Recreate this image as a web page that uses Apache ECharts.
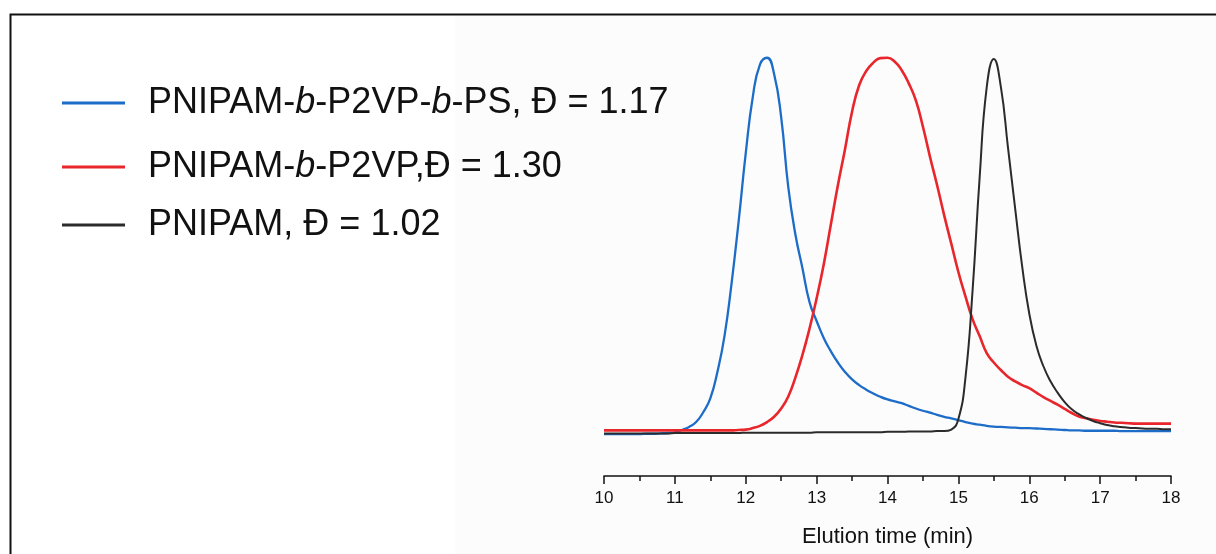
<!DOCTYPE html>
<html>
<head>
<meta charset="utf-8">
<script src="https://cdn.jsdelivr.net/npm/echarts@6/dist/echarts.min.js"></script>
<style>
	html,body{margin:0; padding:0; background:#fff;}
	#chart{width:1216px; height:554px;}
</style>
</head>
<body>
<div id="chart"></div>
<script>
	// 洗脱时间 (min)，每 0.1 min 读一个点
	var elutionTime = [
		10.0, 10.1, 10.2, 10.3, 10.4, 10.5, 10.6, 10.7, 10.8, 10.9,
		11.0, 11.1, 11.2, 11.3, 11.4, 11.5, 11.6, 11.7, 11.8, 11.9,
		12.0, 12.1, 12.2, 12.3, 12.4, 12.5, 12.6, 12.7, 12.8, 12.9,
		13.0, 13.1, 13.2, 13.3, 13.4, 13.5, 13.6, 13.7, 13.8, 13.9,
		14.0, 14.1, 14.2, 14.3, 14.4, 14.5, 14.6, 14.7, 14.8, 14.9,
		15.0, 15.1, 15.2, 15.3, 15.4, 15.5, 15.6, 15.7, 15.8, 15.9,
		16.0, 16.1, 16.2, 16.3, 16.4, 16.5, 16.6, 16.7, 16.8, 16.9,
		17.0, 17.1, 17.2, 17.3, 17.4, 17.5, 17.6, 17.7, 17.8, 17.9,
		18.0
	];
	// 归一化信号
	var blueValue = [
		0, 0, 0, 0, 0, 0, 0.001, 0.001, 0.002, 0.003,
		0.005, 0.011, 0.019, 0.032, 0.058, 0.095, 0.165, 0.26, 0.40, 0.565,
		0.745, 0.895, 0.98, 0.998, 0.955, 0.84, 0.655, 0.53, 0.44, 0.35,
		0.30, 0.255, 0.22, 0.19, 0.165, 0.145, 0.13, 0.118, 0.108, 0.099,
		0.092, 0.087, 0.082, 0.075, 0.068, 0.062, 0.057, 0.051, 0.046, 0.042,
		0.037, 0.032, 0.028, 0.025, 0.022, 0.020, 0.019, 0.018, 0.017, 0.016,
		0.016, 0.015, 0.014, 0.013, 0.012, 0.011, 0.010, 0.010, 0.009, 0.009,
		0.009, 0.009, 0.009, 0.008, 0.008, 0.008, 0.008, 0.008, 0.008, 0.008,
		0.008
	];
	var redValue = [
		0.010, 0.010, 0.010, 0.010, 0.010, 0.010, 0.010, 0.010, 0.010, 0.010,
		0.010, 0.010, 0.010, 0.010, 0.010, 0.010, 0.010, 0.010, 0.010, 0.011,
		0.012, 0.016, 0.022, 0.032, 0.046, 0.068, 0.10, 0.15, 0.21, 0.28,
		0.36, 0.45, 0.555, 0.66, 0.755, 0.855, 0.925, 0.963, 0.985, 0.997,
		0.998, 0.988, 0.965, 0.93, 0.885, 0.815, 0.735, 0.66, 0.58, 0.505,
		0.43, 0.365, 0.305, 0.26, 0.215, 0.19, 0.17, 0.152, 0.14, 0.13,
		0.122, 0.11, 0.098, 0.088, 0.078, 0.067, 0.056, 0.047, 0.042, 0.038,
		0.035, 0.033, 0.031, 0.030, 0.029, 0.028, 0.028, 0.028, 0.028, 0.028,
		0.028
	];
	var blackValue = [
		0.002, 0.002, 0.002, 0.002, 0.002, 0.002, 0.002, 0.002, 0.002, 0.002,
		0.003, 0.003, 0.003, 0.003, 0.003, 0.003, 0.003, 0.003, 0.003, 0.003,
		0.004, 0.004, 0.004, 0.004, 0.004, 0.004, 0.004, 0.004, 0.004, 0.004,
		0.005, 0.005, 0.005, 0.005, 0.005, 0.005, 0.005, 0.005, 0.005, 0.005,
		0.006, 0.006, 0.006, 0.007, 0.007, 0.007, 0.007, 0.008, 0.008, 0.012,
		0.04, 0.15, 0.38, 0.68, 0.92, 0.995, 0.92, 0.76, 0.6, 0.445,
		0.32, 0.235, 0.18, 0.14, 0.11, 0.085, 0.066, 0.053, 0.043, 0.035,
		0.029, 0.024, 0.021, 0.019, 0.017, 0.016, 0.015, 0.014, 0.014, 0.013,
		0.013
	];

	var seriesNames = ['PNIPAM-b-P2VP-b-PS, Đ = 1.17', 'PNIPAM-b-P2VP,Đ = 1.30', 'PNIPAM, Đ = 1.02'];
	// 图例文字 (b 为斜体)
	var legendLabels = ['{n|PNIPAM-}{i|b}{n|-P2VP-}{i|b}{n|-PS, Đ = 1.17}', '{n|PNIPAM-}{i|b}{n|-P2VP,Đ = 1.30}', '{n|PNIPAM, Đ = 1.02}'];
	var colors = ['#1c6cc8', '#e8262b', '#2b2b2b'];
	var xTicks = [10, 18, 1];

	function zip(a, b){
		return a.map(function(t, i){ return [t, b[i]]; });
	}

	var fontFam = '"Liberation Sans", Arial, sans-serif';
	var richStyle = {
		n: {fontSize: 36, fontFamily: fontFam, color: '#111'},
		i: {fontSize: 36, fontFamily: fontFam, color: '#111', fontStyle: 'italic'}
	};
	var legendTops = [80, 144, 202];

	var legends = seriesNames.map(function(name, k){
		return {
			data: [name],
			left: 57,
			top: legendTops[k],
			icon: 'rect',
			itemWidth: 63,
			itemHeight: 3,
			itemGap: 0,
			selectedMode: false,
			formatter: function(){ return legendLabels[k]; },
			textStyle: {padding: [0, 0, 0, 18], rich: richStyle}
		};
	});

	function lineSeries(k, value, width){
		return {
			name: seriesNames[k], type: 'line', data: zip(elutionTime, value),
			smooth: 0.5,
			showSymbol: false, symbol: 'none', color: colors[k],
			lineStyle: {width: width, color: colors[k]}
		};
	}

	var myChart = echarts.init(document.getElementById('chart'));
	var option = {
		backgroundColor: '#ffffff',
		animation: false,
		graphic: [
			{type: 'rect', z: -10, shape: {x: 455, y: 16, width: 761, height: 538}, style: {fill: '#fcfcfc'}},
			{type: 'polyline', z: 10, shape: {points: [[10.5, 554], [10.5, 14.5], [1216, 14.5]]}, style: {stroke: '#111', lineWidth: 2, fill: null}}
		],
		legend: legends,
		grid: {left: 604, right: 45, top: 57, bottom: 78},
		xAxis: {
			type: 'value',
			min: xTicks[0],
			max: xTicks[1],
			interval: xTicks[2],
			name: 'Elution time (min)',
			nameLocation: 'middle',
			nameGap: 50,
			nameTextStyle: {fontSize: 22, color: '#111', fontFamily: fontFam},
			axisLine: {onZero: false, lineStyle: {color: '#111', width: 1.5}},
			axisTick: {show: true, inside: false, length: 8, lineStyle: {color: '#111', width: 1.5}},
			minorTick: {show: true, splitNumber: 2, length: 5, lineStyle: {color: '#111', width: 1.5}},
			axisLabel: {fontSize: 17, color: '#111', margin: 14, fontFamily: fontFam},
			splitLine: {show: false}
		},
		yAxis: {
			type: 'value',
			min: -0.111,
			max: 1,
			show: false
		},
		series: [
			lineSeries(0, blueValue, 2.3),
			lineSeries(1, redValue, 2.6),
			lineSeries(2, blackValue, 2)
		]
	};
	myChart.setOption(option);
</script>
</body>
</html>
